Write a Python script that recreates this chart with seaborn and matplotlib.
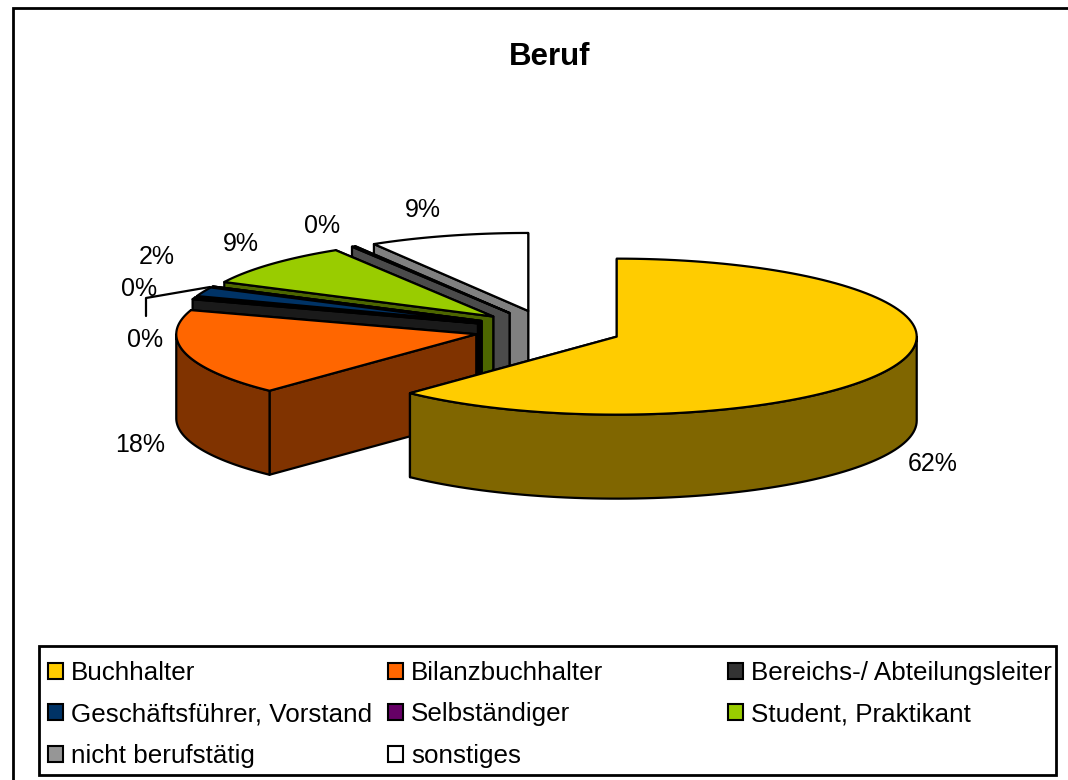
import numpy as np
import matplotlib
matplotlib.use("Agg")
import matplotlib.pyplot as plt
from matplotlib.legend import Legend
from matplotlib.patches import Patch, Rectangle
import seaborn as sns

# data, in percent
berufe = ["Buchhalter", "Bilanzbuchhalter", "Bereichs-/ Abteilungsleiter",
          "Geschäftsführer, Vorstand", "Selbständiger", "Student, Praktikant",
          "nicht berufstätig", "sonstiges"]
anteile = [62.1, 17.9, 0.4, 1.9, 0.0, 8.9, 0.2, 8.6]
farben = ["#FFCC00", "#FF6600", "#333333", "#003366",
          "#660066", "#99CC00", "#969696", "#FFFFFF"]

# geometry of the exploded 3D pie, in pixels
MITTE = (548, 329.5)
RX, RY = 300, 78
TIEFE = 84
EXPLOSION = 74
LW = 1.6

sns.set_style("white")
plt.rcParams["font.family"] = ["Liberation Sans", "DejaVu Sans"]
plt.rcParams["text.color"] = "black"
plt.rcParams["legend.labelcolor"] = "black"
palette = sns.color_palette(farben)

fig = plt.figure(figsize=(10.68, 7.8), dpi=100)
ax = fig.add_axes([0, 0, 1, 1])
ax.set_xlim(0, 1068)
ax.set_ylim(780, 0)
ax.axis("off")

# chart frame runs off the right and bottom of the image
ax.add_patch(Rectangle((13, 8), 1100, 800, fc="white", ec="black", lw=2))


def rand(cx, cy, grad):
    t = np.radians(grad)
    return np.column_stack([cx + RX * np.sin(t), cy - RY * np.cos(t)])


def flaeche(punkte, farbe):
    ax.fill(punkte[:, 0], punkte[:, 1], fc=farbe, ec="black", lw=LW, joinstyle="round")


def seite(apex, aussen, farbe):
    flaeche(np.array([apex, aussen, aussen + [0, TIEFE], apex + [0, TIEFE]]), farbe)


grenzen = np.cumsum([0] + anteile) * 3.6
stuecke = list(zip(grenzen[:-1], grenzen[1:], palette))

# back to front: the last slice sits behind everything, the first in front
for von, bis, farbe in stuecke[::-1]:
    mitte = np.radians((von + bis) / 2)
    cx = MITTE[0] + EXPLOSION * np.sin(mitte)
    cy = MITTE[1] - EXPLOSION * RY / RX * np.cos(mitte)
    apex = np.array([cx, cy])
    dunkel = tuple(c * 0.5 for c in farbe)

    seite(apex, rand(cx, cy, np.array([bis]))[0], dunkel)
    seite(apex, rand(cx, cy, np.array([von]))[0], dunkel)

    w0, w1 = max(von, 90), min(bis, 270)
    if w1 > w0:
        bogen = rand(cx, cy, np.linspace(w0, w1, 80))
        flaeche(np.vstack([bogen, bogen[::-1] + [0, TIEFE]]), dunkel)

    bogen = rand(cx, cy, np.linspace(von, bis, 120))
    flaeche(np.vstack([apex, bogen]), farbe)

# value labels and the one leader line
label_pos = [(933, 464), (140, 445), (145, 340), (157, 257),
             (139, 289), (241, 244), (322, 226), (423, 210)]
for wert, (x, y) in zip(anteile, label_pos):
    ax.text(x, y, f"{round(wert)}%", fontsize=18, ha="center", va="center", color="black")
ax.plot([146, 146, 210], [316, 298, 287], color="black", lw=LW)

ax.text(550, 57, "Beruf", fontsize=22.5, fontweight="bold", ha="center", va="center", color="black")

# legend: frame plus one legend per column, columns have unequal gaps in the original
ax.add_patch(Rectangle((39, 646), 1017, 129, fc="white", ec="black", lw=2))
griffe = [Patch(fc=f, ec="black", lw=1.5) for f in farben]
for start, x in zip([0, 1, 2], [48, 388, 728]):
    spalte = list(range(start, len(berufe), 3))
    leg = Legend(ax, [griffe[i] for i in spalte], [berufe[i] for i in spalte],
                 loc="upper left", bbox_to_anchor=(x, 661),
                 bbox_transform=ax.transData, frameon=False, fontsize=18.7,
                 handlelength=0.58, handleheight=0.58, handletextpad=0.3,
                 labelspacing=0.67, borderpad=0, borderaxespad=0)
    ax.add_artist(leg)

fig.savefig("out.png", dpi=100)
